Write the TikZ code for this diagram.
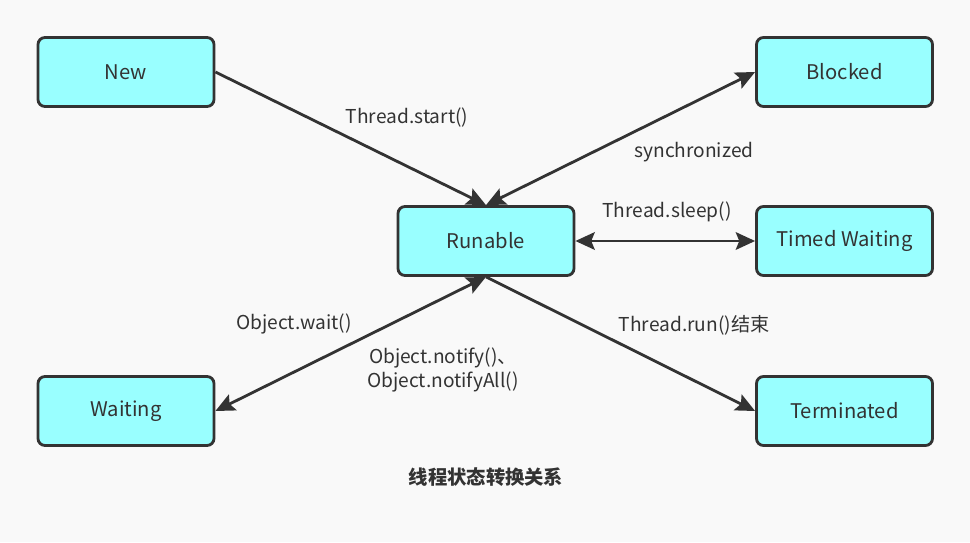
\documentclass[tikz,border=0pt]{standalone}
\usepackage{fontspec}
\setmainfont{Noto Sans CJK SC}
\usepackage{tikz}
\usetikzlibrary{
  positioning,
  arrows.meta}

\definecolor{stategray}{HTML}{333333}
\definecolor{statecyan}{HTML}{99FFFF}
\definecolor{paper}{HTML}{F9F9F9}

\tikzset{
  state/.style={
    rectangle,
    rounded corners=4pt,
    draw=stategray,
    fill=statecyan,
    line width=1.6pt,
    text=stategray,
    minimum width=3.52cm,
    minimum height=1.38cm,
    font=\fontsize{11.5pt}{13pt}\selectfont
  },
  trans/.style={
    draw=stategray,
    line width=1.6pt,
    -{Stealth[length=11pt,width=10pt,inset=2pt]}
  },
  both/.style={
    trans,
    {Stealth[length=11pt,width=10pt,inset=2pt]}-{Stealth[length=11pt,width=10pt,inset=2pt]}
  },
  lbl/.style={
    text=stategray,
    font=\fontsize{10.9pt}{13.4pt}\selectfont,
    align=center
  }
}

\begin{document}
\begin{tikzpicture}%
  % Background
  \fill[paper] (0,0) rectangle (19.4,10.84);
  \useasboundingbox (0,0) rectangle (19.4,10.84);

  % States
  \node[state] (new) at (2.52,9.40) {New};
  \node[state] (blocked) at (16.89,9.40) {Blocked};
  \node[state] (run) at (9.72,6.02) {Runable};
  \node[state] (timed) at (16.89,6.02) {Timed Waiting};
  \node[state] (wait) at (2.52,2.62) {Waiting};
  \node[state] (term) at (16.89,2.62) {Terminated};

  % Transitions
  \draw[trans] (new.east) -- (run.north);
  \draw[both] (run.north) -- (blocked.west);
  \draw[both] (run.east) -- (timed.west);
  \draw[both] (run.south) -- (wait.east);
  \draw[trans] (run.south) -- (term.west);

  % Labels
  \node[lbl] (start) at (8.14,8.48) {Thread.start()};
  \node[lbl] (sync) at (13.88,7.80) {synchronized};
  \node[lbl] (sleep) at (13.34,6.60) {Thread.sleep()};
  \node[lbl] (owait) at (5.88,4.36) {Object.wait()};
  \node[lbl] (notify) at (8.86,3.44) {Object.notify()、\\Object.notifyAll()};
  \node[lbl] (runend) at (13.88,4.34) {Thread.run()结束};

  % Title
  \node[
    lbl,
    font=\bfseries\fontsize{11pt}{13pt}\selectfont
  ] (title) at (9.72,1.30) {线程状态转换关系};

\end{tikzpicture}
\end{document}
